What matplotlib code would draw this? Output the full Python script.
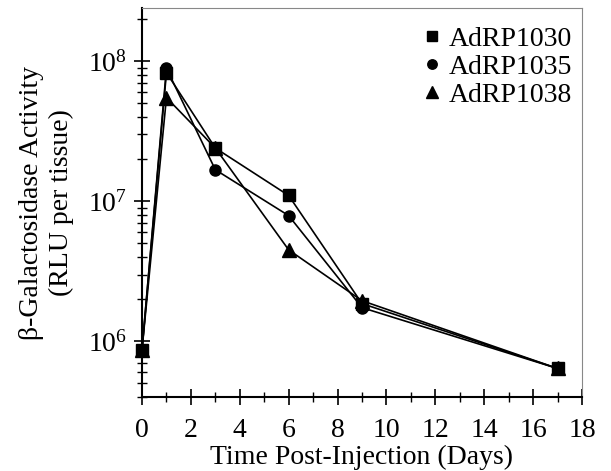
import matplotlib
matplotlib.use("Agg")
import matplotlib.pyplot as plt
from matplotlib.lines import Line2D
from matplotlib.ticker import LogLocator, MultipleLocator, NullFormatter

plt.rcParams['font.family'] = ['Liberation Serif', 'DejaVu Serif']
plt.rcParams['mathtext.fontset'] = 'custom'
plt.rcParams['mathtext.rm'] = 'Liberation Serif'

days = [0, 1, 3, 6, 9, 17]
adrp1030 = [8.7e5, 8.3e7, 2.4e7, 1.1e7, 1.86e6, 6.4e5]
adrp1035 = [8.7e5, 8.9e7, 1.68e7, 7.9e6, 1.74e6, 6.4e5]
adrp1038 = [8.7e5, 5.5e7, 2.4e7, 4.5e6, 1.95e6, 6.4e5]
names = ['AdRP1030', 'AdRP1035', 'AdRP1038']
markers = ['s', 'o', '^']
sizes = [8, 8, 10]


def main():
    fig = plt.figure(figsize=(6.11, 4.71), dpi=100)
    ax = fig.add_axes([0.2324, 0.157, 0.7201, 0.826])

    for ys, m, ms in zip([adrp1030, adrp1035, adrp1038], markers, sizes):
        ax.plot(days, ys, color='black', lw=1.2, marker=m, ms=ms, clip_on=False, zorder=3)

    ax.set_yscale('log')
    ax.set_xlim(0, 18)
    ax.set_ylim(4e5, 2.4e8)

    ax.xaxis.set_major_locator(MultipleLocator(2))
    ax.xaxis.set_minor_locator(MultipleLocator(1))
    ax.yaxis.set_major_locator(LogLocator(base=10, numticks=10))
    ax.yaxis.set_minor_locator(LogLocator(base=10, subs=range(2, 10), numticks=20))
    ax.yaxis.set_minor_formatter(NullFormatter())

    ax.tick_params(which='major', direction='inout', length=12, width=1.2,
                   labelsize=20, top=False, right=False)
    ax.tick_params(which='minor', direction='inout', length=7, width=1.0,
                   top=False, right=False)
    ax.tick_params(axis='x', which='major', pad=9)
    ax.tick_params(axis='y', which='major', pad=5)

    for s in ['left', 'bottom']:
        ax.spines[s].set_linewidth(1.5)
    for s in ['top', 'right']:
        ax.spines[s].set_linewidth(0.8)
        ax.spines[s].set_color('#888888')

    ax.set_xlabel('Time Post-Injection (Days)', fontsize=20)
    ax.xaxis.set_label_coords(0.5, -0.122)
    ax.set_ylabel('β-Galactosidase Activity\n(RLU per tissue)', fontsize=20,
                  labelpad=10, linespacing=1.25)

    handles = [Line2D([], [], color='black', marker=m, ls='none', ms=ms * 0.85)
               for m, ms in zip(markers, sizes)]
    ax.legend(handles, names, loc='upper right', bbox_to_anchor=(1.018, 1.0),
              frameon=False, fontsize=20, handlelength=0.6, handletextpad=0.3,
              labelspacing=0.1, borderaxespad=0.1, borderpad=0.55)

    fig.savefig('out.png', dpi=100)


if __name__ == "__main__":
    main()
